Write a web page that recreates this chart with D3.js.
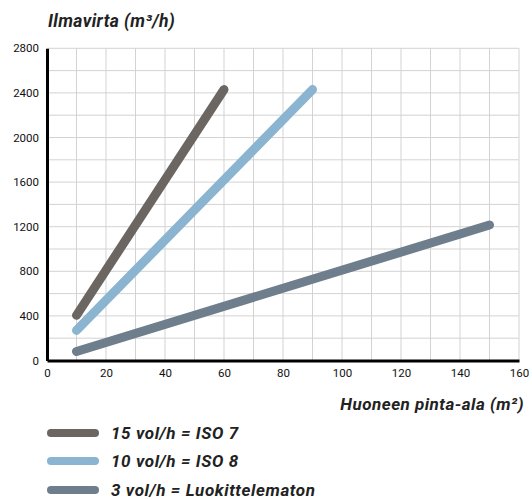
<!DOCTYPE html>
<html><head><meta charset="utf-8">
<script src="https://cdn.jsdelivr.net/npm/d3@7"></script>
<style>
body{margin:0;background:#fff;}
text{font-family:Roboto, "Liberation Sans", sans-serif;}
</style></head>
<body>
<svg id="c" width="532" height="499"></svg>
<script>
const seriesNames = ["15 vol/h = ISO 7", "10 vol/h = ISO 8", "3 vol/h = Luokittelematon"];
const seriesColors = ["#6b6661", "#8ab4cf", "#6e7e8c"];
const areaISO7 = [10, 60];
const flowISO7 = [405, 2430];
const areaISO8 = [10, 90];
const flowISO8 = [270, 2430];
const areaUnclass = [10, 150];
const flowUnclass = [81, 1215];
const xTicks = [0, 20, 40, 60, 80, 100, 120, 140, 160];
const yTicks = [0, 400, 800, 1200, 1600, 2000, 2400, 2800];

const series = [
  {name: seriesNames[0], color: seriesColors[0], pts: areaISO7.map((a,i)=>[a, flowISO7[i]])},
  {name: seriesNames[1], color: seriesColors[1], pts: areaISO8.map((a,i)=>[a, flowISO8[i]])},
  {name: seriesNames[2], color: seriesColors[2], pts: areaUnclass.map((a,i)=>[a, flowUnclass[i]])}
];

const svg = d3.select("#c");
const x = d3.scaleLinear().domain([0,160]).range([47,519]);
const y = d3.scaleLinear().domain([0,2800]).range([360.5,48.3]);

// grid
const grid = svg.append("g");
grid.selectAll("line.v").data(d3.range(10,161,10)).join("line")
  .attr("x1",d=>x(d)).attr("x2",d=>x(d)).attr("y1",y(0)).attr("y2",y(2800))
  .attr("stroke","#d3d3d3").attr("stroke-width",1);
grid.selectAll("line.h").data(d3.range(200,2801,200)).join("line")
  .attr("x1",x(0)).attr("x2",x(160)).attr("y1",d=>y(d)).attr("y2",d=>y(d))
  .attr("stroke","#d3d3d3").attr("stroke-width",1);

// lines
const line = d3.line().x(d=>x(d[0])).y(d=>y(d[1]));
svg.append("g").selectAll("path").data(series).join("path")
  .attr("d",d=>line(d.pts)).attr("fill","none").attr("stroke",d=>d.color)
  .attr("stroke-width",9).attr("stroke-linecap","round");

// axes
const xAxis = svg.append("g").attr("transform",`translate(0,${y(0)})`)
  .call(d3.axisBottom(x).tickValues(xTicks).tickFormat(d3.format("d")).tickSize(0).tickPadding(8));
const yAxis = svg.append("g").attr("transform",`translate(${x(0)},0)`)
  .call(d3.axisLeft(y).tickValues(yTicks).tickFormat(d3.format("d")).tickSize(0).tickPadding(8));
[xAxis,yAxis].forEach(a=>{
  a.select(".domain").attr("stroke","#000").attr("stroke-width",3);
  a.selectAll("text").attr("font-size",11.5).attr("fill","#111").attr("font-family","Roboto, sans-serif");
});

// titles
svg.append("text").attr("x",48).attr("y",27).text("Ilmavirta (m³/h)")
  .attr("font-size",17.5).attr("letter-spacing",0.4).attr("font-style","italic").attr("font-weight",700).attr("fill","#222");
svg.append("text").attr("x",524).attr("y",410).attr("text-anchor","end").text("Huoneen pinta-ala (m²)")
  .attr("font-size",17).attr("letter-spacing",0.5).attr("font-style","italic").attr("font-weight",700).attr("fill","#222");

// legend
const lg = svg.append("g").selectAll("g").data(series).join("g")
  .attr("transform",(d,i)=>`translate(0,${[433,461,490][i]})`);
lg.append("line").attr("x1",51).attr("x2",95).attr("y1",0).attr("y2",0)
  .attr("stroke",d=>d.color).attr("stroke-width",8).attr("stroke-linecap","round");
lg.append("text").attr("x",111).attr("y",6).text(d=>d.name)
  .attr("font-size",17).attr("letter-spacing",0.6).attr("font-style","italic").attr("font-weight",700).attr("fill","#222");
</script>
</body></html>
